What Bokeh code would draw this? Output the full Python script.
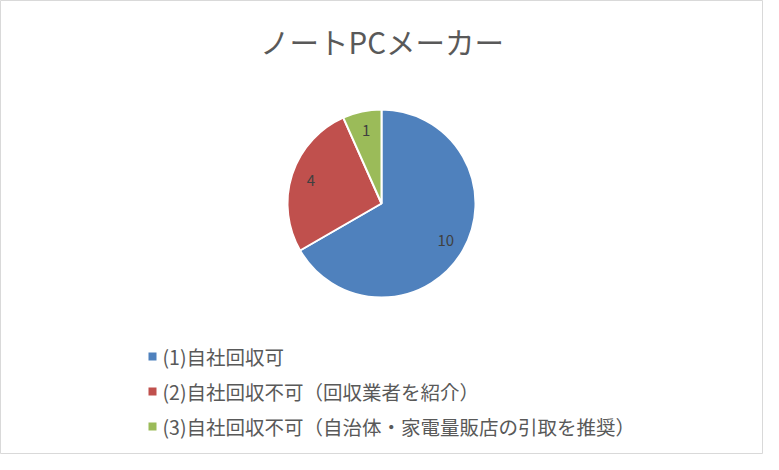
import numpy as np
from bokeh.plotting import figure
from bokeh.models import ColumnDataSource, Range1d
from bokeh.core.properties import value
from bokeh.embed import file_html
from bokeh.resources import INLINE

title_text = "ノートPCメーカー"
categories = ["(1)自社回収可", "(2)自社回収不可（回収業者を紹介）", "(3)自社回収不可（自治体・家電量販店の引取を推奨）"]
counts = [10, 4, 1]
colors = ["#4F81BD", "#C0504D", "#9BBB59"]

W, H = 763, 454
FONT = "Noto Sans CJK JP"

p = figure(width=W, height=H, output_backend="svg", toolbar_location=None,
           x_range=Range1d(0, W), y_range=Range1d(0, H), min_border=0)
p.axis.visible = False
p.grid.visible = False
p.outline_line_color = "#D9D9D9"
p.outline_line_width = 1
p.background_fill_color = "white"
p.border_fill_color = "white"

# pie geometry (pixel units)
cx, cy, r = 381, H - 203, 94
vals = np.array(counts, dtype=float)
frac = vals / vals.sum()
ends_cum = np.cumsum(frac)
starts_cum = ends_cum - frac
start_ang = np.pi / 2 - starts_cum * 2 * np.pi
end_ang = np.pi / 2 - ends_cum * 2 * np.pi
mid_ang = (start_ang + end_ang) / 2

src = ColumnDataSource(dict(x=[cx] * len(counts), y=[cy] * len(counts),
                            start=start_ang, end=end_ang, color=colors))
p.wedge(x="x", y="y", radius=r, start_angle="start", end_angle="end",
        direction="clock", fill_color="color", line_color="white", line_width=2,
        source=src)

lr = r * 0.79
lab_src = ColumnDataSource(dict(x=cx + lr * np.cos(mid_ang), y=cy + lr * np.sin(mid_ang),
                                t=[str(c) for c in counts]))
p.text(x="x", y="y", text="t", source=lab_src, text_align="center",
       text_baseline="middle", text_font=value(FONT), text_font_size="15px",
       text_color="#404040")

# title
p.text(x=[W / 2], y=[H - 40], text=[title_text], text_align="center",
       text_baseline="middle", text_font=value(FONT), text_font_size="29.5px",
       text_color="#595959")

# legend
idx = np.arange(len(categories))
leg_y = H - (356 + idx * 35)
p.scatter(x=[152] * len(categories), y=leg_y, marker="square", size=8,
          fill_color=colors, line_color=None)
p.text(x=[162] * len(categories), y=leg_y, text=categories, text_align="left",
       text_baseline="middle", text_font=value(FONT), text_font_size="19.5px",
       text_color="#595959")

open("out.html", "w").write(file_html(p, INLINE))
